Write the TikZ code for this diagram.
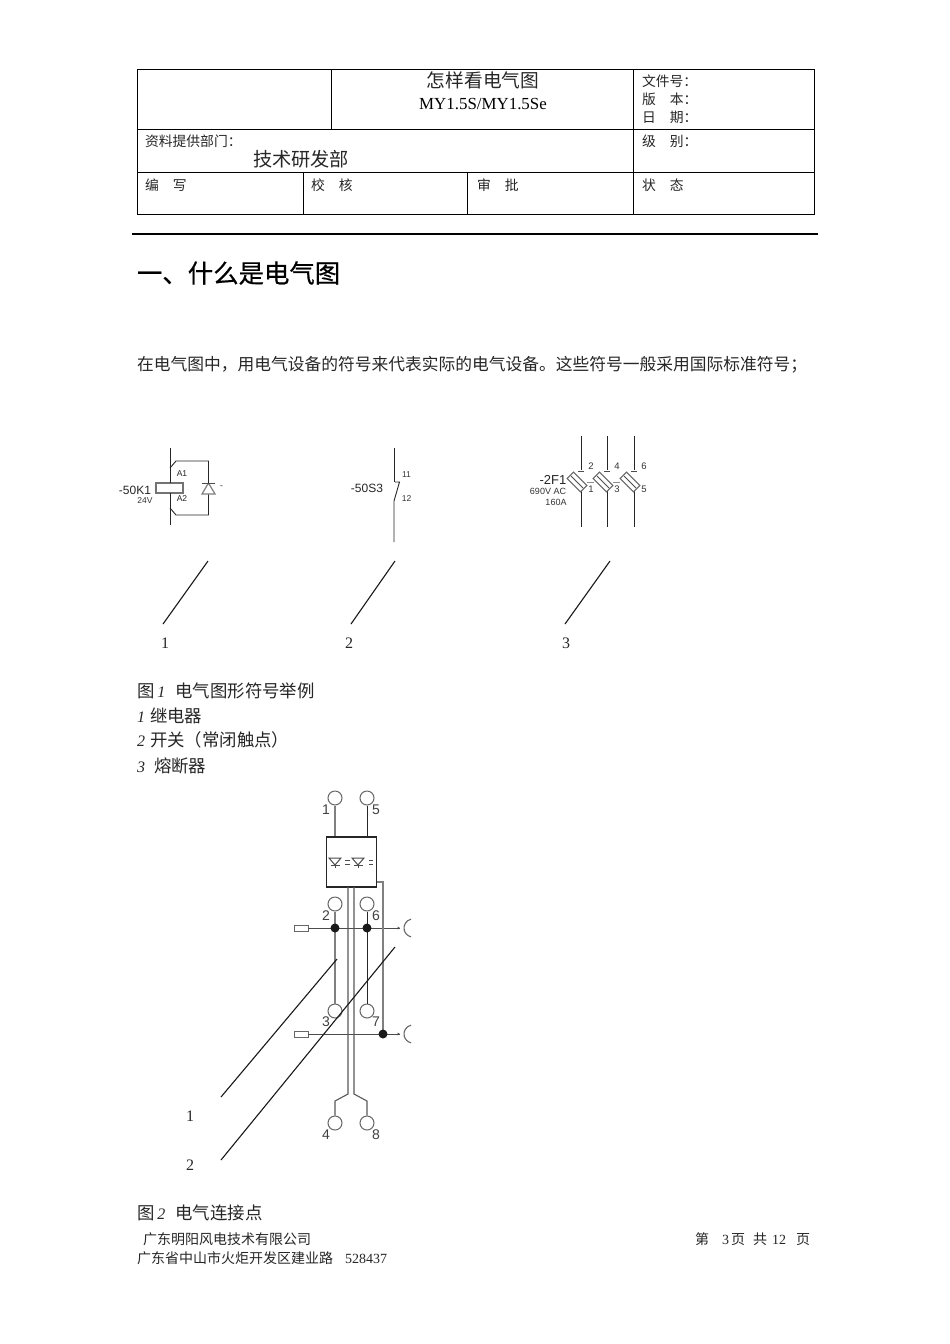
\documentclass[tikz,border=0pt]{standalone}
\usepackage{fontspec}
\setmainfont{Noto Sans CJK SC}
\newfontfamily\lat{Liberation Serif}
\newfontfamily\lsans{Liberation Sans}
\newfontfamily\hd[FakeBold=0.5]{Noto Sans CJK SC}
\newcommand{\fs}[1]{\fontsize{#1}{#1}\selectfont}
\begin{document}
\begin{tikzpicture}[x=1pt,y=-1pt,
  txt/.style={inner sep=0pt,outer sep=0pt,anchor=west,text=black!85},
  cell/.style={txt,font=\fs{13.8}},
  para/.style={txt,font=\fs{16.75}},
  body/.style={txt,font=\fs{17.4}},
  foot/.style={txt,font=\fs{14}},
  num/.style={inner sep=0pt,text=black!85,font=\lat\fs{16}},
  lab/.style={inner sep=0pt,text=black!85,font=\lsans\fs{8.5}},
  dev/.style={inner sep=0pt,text=black!85,font=\lsans\fs{12}},
  small/.style={inner sep=0pt,text=black!80,font=\lsans\fs{8.5}},
  pin/.style={inner sep=0pt,text=black!75,font=\lsans\fs{14}},
  frame/.style={line width=1pt,draw=black},
  wire/.style={line width=0.9pt,draw=black!85},
  gwire/.style={line width=1.2pt,draw=black!50},
  gthick/.style={line width=1.6pt,draw=black!50},
  thin/.style={line width=0.8pt,draw=black!70},
  leader/.style={line width=1.1pt,draw=black!90},
  term/.style={circle,draw=black!60,line width=1pt,minimum size=14pt,inner sep=0pt,fill=white},
  dot/.style={circle,fill=black!90,minimum size=9pt,inner sep=0pt},
  load/.style={rectangle,draw=black!60,line width=0.9pt,minimum width=14pt,minimum height=6pt,inner sep=0pt,fill=white},
  fuse/.style={rectangle,draw=black!60,line width=1pt,minimum width=19pt,minimum height=9pt,inner sep=0pt,rotate=-45,fill=white}
]
\useasboundingbox (0,0) rectangle (950,1344);
\fill[white] (0,0) rectangle (950,1344);

% header table
\draw[frame] (137,69) rectangle (814,214);
\draw[frame] (137,129) -- (814,129);
\draw[frame] (137,172) -- (814,172);
\draw[frame] (331,69) -- (331,129);
\draw[frame] (633,69) -- (633,214);
\draw[frame] (303,172) -- (303,214);
\draw[frame] (467,172) -- (467,214);
\draw[line width=2pt,draw=black] (132,233.5) -- (818,233.5);

\node[inner sep=0pt,text=black!85,font=\fs{18.7}] (title) at (483,80) {怎样看电气图};
\node[inner sep=0pt,text=black,font=\lat\fs{16.9}] (model) at (483,104.5) {MY1.5S/MY1.5Se};
\node[cell] (docno) at (642,81) {文件号：};
\node[cell] (ver) at (642,99) {版\hspace{14pt}本：};
\node[cell] (date) at (642,117) {日\hspace{14pt}期：};
\node[cell] (dept) at (145,141) {资料提供部门：};
\node[txt,font=\fs{19.2}] (deptname) at (253,159) {技术研发部};
\node[cell] (level) at (642,141) {级\hspace{14pt}别：};
\node[cell] (c1) at (145,185) {编\hspace{14pt}写};
\node[cell] (c2) at (311,185) {校\hspace{14pt}核};
\node[cell] (c3) at (477,185) {审\hspace{14pt}批};
\node[cell] (c4) at (642,185) {状\hspace{14pt}态};

\node[txt,font=\hd\fs{25.4},text=black] (head) at (137,273) {一、什么是电气图};
\node[para] (paragraph) at (137,364.5) {在电气图中，用电气设备的符号来代表实际的电气设备。这些符号一般采用国际标准符号；};

% relay
\coordinate (ra) at (170,448);
\coordinate (rb) at (170,525);
\node[rectangle,draw=black!55,line width=1.1pt,minimum width=27pt,minimum height=10pt,inner sep=0pt] (coil) at (169.5,488) {};
\draw[wire] (ra) -- (170,483);
\draw[wire] (170,493) -- (rb);
\draw[wire] (170,468) -- (176,461) -- (208.5,461) -- (208.5,515) -- (176,515) -- (170,508);
\draw[gwire,fill=white] (208.5,483) -- (202,494) -- (215,494) -- cycle;
\draw[wire,draw=black!70] (202,483) -- (215,483);
\draw[wire] (208.5,461) -- (208.5,483);
\node[lab] (rA1) at (182,474) {A1};
\node[lab] (rA2) at (182,499) {A2};
\node[dev] (rname) at (135,490) {-50K1};
\node[small] (rv) at (145,501) {24V};
\node[lab] (rdash) at (221.5,487) {-};

% switch
\coordinate (sa) at (394,448);
\coordinate (sb) at (394,542);
\draw[wire] (sa) -- (394,482);
\draw[wire] (sb) -- (394,501) -- (399.5,482) -- (395,482);
\node[dev] (sname) at (367,488) {-50S3};
\node[small] (s11) at (406.5,475) {11};
\node[small] (s12) at (406.5,499) {12};

% fuses
\foreach \x/\n/\up/\dn in {581/f1/2/1,607/f2/4/3,634/f3/6/5}{
  \draw[wire] (\x,436) -- (\x,470);
  \draw[thin] (\x-3,471) -- (\x+3,471);
  \draw[wire] (\x,490) -- (\x,527);
  \node[fuse] (\n) at (\x-4,482) {};
  \draw[thin] (\x-10,476) -- (\x+2,488);
  \node[small,font=\lsans\fs{9.5}] (\n u) at (\x+10,466) {\up};
  \node[small,font=\lsans\fs{9.5}] (\n d) at (\x+10,489) {\dn};
}
\draw[thin,draw=black!45] (587,482) -- (594,482);
\draw[thin,draw=black!45] (613,482) -- (620,482);
\node[dev,font=\lsans\fs{13}] (fname) at (553,480) {-2F1};
\node[small,font=\lsans\fs{9}] (fv) at (548,491) {690V AC};
\node[small,font=\lsans\fs{9}] (fa) at (556,502) {160A};

% leaders fig 1
\coordinate (l1a) at (208,561); \coordinate (l1b) at (163,624);
\coordinate (l2a) at (395,561); \coordinate (l2b) at (351,624);
\coordinate (l3a) at (610,561); \coordinate (l3b) at (565,624);
\draw[leader] (l1a) -- (l1b);
\draw[leader] (l2a) -- (l2b);
\draw[leader] (l3a) -- (l3b);
\node[num] (n1) at (165,643) {1};
\node[num] (n2) at (349,643) {2};
\node[num] (n3) at (566,643) {3};

\node[body] (cap1) at (137,691) {图\hspace{3pt}{\lat\itshape\fs{16}1}\hspace{10pt}电气图形符号举例};
\node[body] (li1) at (137,716) {{\lat\itshape\fs{16}1}\hspace{5pt}继电器};
\node[body] (li2) at (137,740) {{\lat\itshape\fs{16}2}\hspace{5pt}开关（常闭触点）};
\node[body] (li3) at (137,766) {{\lat\itshape\fs{16}3}\hspace{9pt}熔断器};

% figure 2
\node[rectangle,draw=black!85,line width=1.1pt,minimum width=49.5pt,minimum height=50pt,inner sep=0pt] (box) at (351.5,862) {};
\node[term] (t1) at (335,798) {};
\node[term] (t5) at (367,798) {};
\node[term] (t2) at (335,904) {};
\node[term] (t6) at (367,904) {};
\node[term] (t3) at (335,1011) {};
\node[term] (t7) at (367,1011) {};
\node[term] (t4) at (335,1123) {};
\node[term] (t8) at (367,1123) {};
\node[load] (la) at (301,928) {};
\node[load] (lb) at (301,1034) {};
\coordinate (ea) at (400,928);
\coordinate (eb) at (400,1034);
\coordinate (j2c) at (335,928);
\coordinate (j6c) at (367,928);
\coordinate (j7c) at (383,1034);
\draw[thin] (la.east) -- (j2c) -- (j6c) -- (ea);
\draw[thin] (lb.east) -- (j7c) -- (eb);
\draw[gwire] (t1.south) -- (t1.south |- box.north);
\draw[wire] (t5.south) -- (t5.south |- box.north);
\draw[gwire] (t2.south) -- (t3.north);
\draw[wire] (t6.south) -- (t7.north);
\draw[wire,draw=black!65,line width=1.1pt] (348,887) -- (348,1094) -- (335,1101) -- (t4.north);
\draw[wire,draw=black!65,line width=1.1pt] (354,887) -- (354,1094) -- (367,1101) -- (t8.north);
\draw[gthick] (box.east |- 0,882) -- (383,882) -- (j7c);
\node[dot] (j2) at (j2c) {};
\node[dot] (j6) at (j6c) {};
\node[dot] (j7) at (j7c) {};
% arcs
\draw[line width=1.1pt,draw=black!60] (411,919.2) arc[start angle=-102.8,end angle=-257.2,radius=9];
\draw[line width=1.1pt,draw=black!60] (411,1025.2) arc[start angle=-102.8,end angle=-257.2,radius=9];
\fill[black!70] (ea) -- +(-2.5,-1.5) -- +(-2.5,1.5) -- cycle;
\fill[black!70] (eb) -- +(-2.5,-1.5) -- +(-2.5,1.5) -- cycle;
% diodes in box
\foreach \x/\n in {335/da,358/db}{
  \draw[line width=1pt,draw=black!70] (\x-6,858) -- (\x+6,858) -- (\x,865) -- cycle;
  \draw[line width=1pt,draw=black!70] (\x-4.5,865.5) -- (\x+4.5,865.5);
  \draw[line width=1pt,draw=black!70] (\x,865.5) -- (\x,868);
}
\draw[thin] (345,860.5) -- (350,860.5) (345,864) -- (350,864);
\draw[thin] (369,860.5) -- (373,860.5) (369,864) -- (373,864);
\node[pin] (p1) at (326,810) {1};
\node[pin] (p5) at (376,810) {5};
\node[pin] (p2) at (326,916) {2};
\node[pin] (p6) at (376,916) {6};
\node[pin] (p3) at (326,1022) {3};
\node[pin] (p7) at (376,1022) {7};
\node[pin] (p4) at (326,1135) {4};
\node[pin] (p8) at (376,1135) {8};

\coordinate (l4a) at (337,959); \coordinate (l4b) at (221,1097);
\coordinate (l5a) at (395,947); \coordinate (l5b) at (221,1160);
\draw[leader] (l4a) -- (l4b);
\draw[leader] (l5a) -- (l5b);
\node[num] (n4) at (190,1116) {1};
\node[num] (n5) at (190,1165) {2};

\node[body] (cap2) at (137,1213) {图\hspace{3pt}{\lat\itshape\fs{16}2}\hspace{10pt}电气连接点};
\node[foot] (f1) at (143,1239) {广东明阳风电技术有限公司};
\node[foot] (f2) at (695,1239) {第\hspace{13pt}{\lat 3}\hspace{2pt}页\hspace{8pt}共\hspace{5pt}{\lat 12}\hspace{10pt}页};
\node[foot] (f3) at (137,1258) {广东省中山市火炬开发区建业路\hspace{12pt}{\lat 528437}};
\end{tikzpicture}
\end{document}
